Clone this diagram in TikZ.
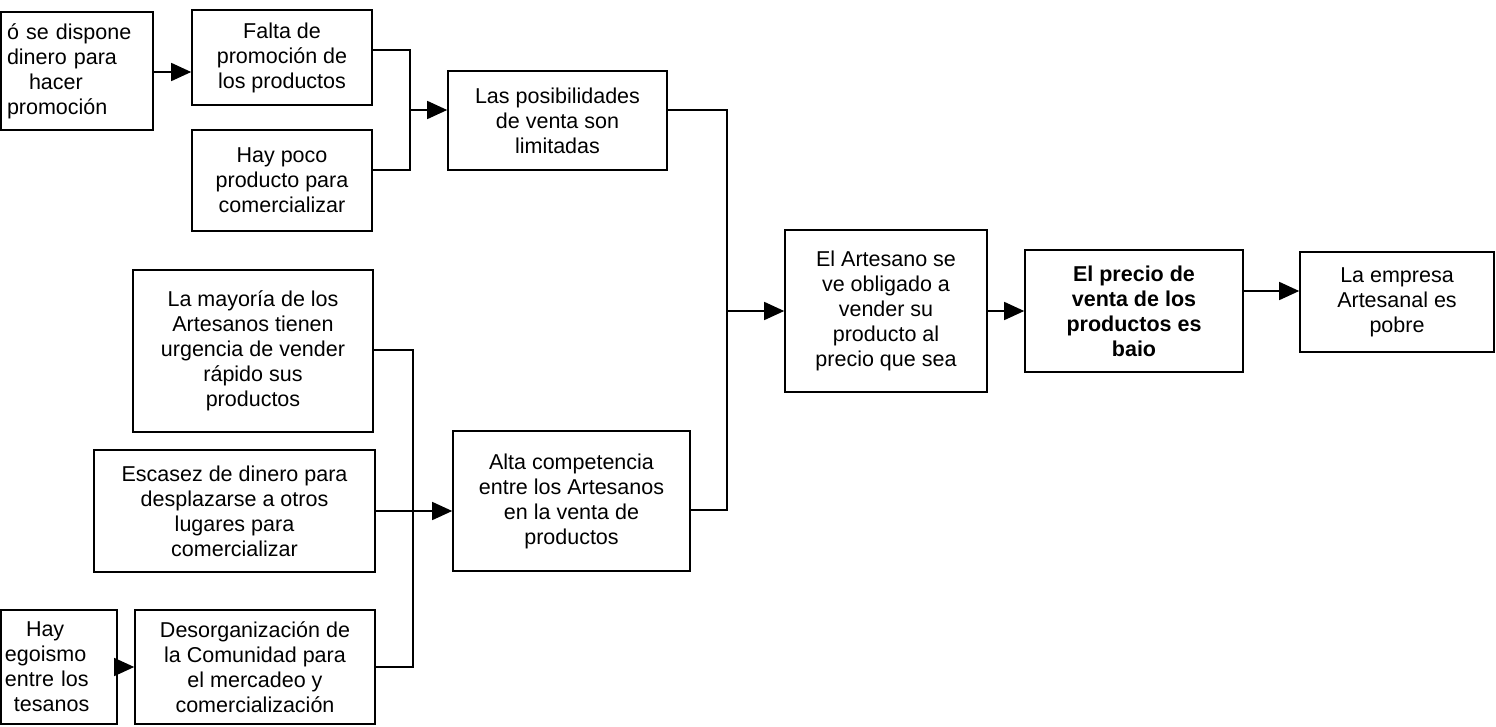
\documentclass[tikz,border=0pt]{standalone}
\usepackage{fontspec}
\setmainfont{Liberation Sans}
\usetikzlibrary{arrows.meta}
\tikzset{
  box/.style={draw=black, line width=1.6pt, rectangle, align=center, inner sep=2pt,
    font=\fontsize{21.5}{25}\selectfont},
  link/.style={draw=black, line width=1.5pt},
  arr/.style={link, -{Triangle[length=20pt,width=18pt]}}
}
\begin{document}
\begin{tikzpicture}[x=1pt,y=-1pt]
\path[fill=white] (0,0) rectangle (1496,726);
\useasboundingbox (0,0) rectangle (1496,726);

% boxes
\node[box, align=left, text width=140pt, inner xsep=6pt, minimum height=118pt] (A) at (77,71)
  {ó se dispone\\dinero para\\\hspace*{22pt}hacer\\promoción};
\node[box, minimum width=180pt, minimum height=95pt] (B) at (282,57.5)
  {Falta de\\promoción de\\los productos};
\node[box, minimum width=180pt, minimum height=101pt] (C) at (282,180.5)
  {Hay poco\\producto para\\comercializar};
\node[box, minimum width=219pt, minimum height=99pt] (D) at (557.5,120.5)
  {Las posibilidades\\de venta son\\limitadas};
\node[box, minimum width=237pt, minimum height=140pt] (E) at (571.5,501)
  {Alta competencia\\entre los Artesanos\\en la venta de\\productos};
\node[box, minimum width=202pt, minimum height=162pt] (F) at (886,311)
  {El Artesano se\\ve obligado a\\vender su\\producto al\\precio que sea};
\node[box, minimum width=218pt, minimum height=122pt, font=\fontsize{21.5}{25}\selectfont\bfseries] (K) at (1134,311)
  {El precio de\\venta de los\\productos es\\baio};
\node[box, minimum width=194pt, minimum height=100pt] (L) at (1397,302)
  {La empresa\\Artesanal es\\pobre};
\node[box, minimum width=240pt, minimum height=162pt] (G) at (253,351)
  {La mayoría de los\\Artesanos tienen\\urgencia de vender\\rápido sus\\productos};
\node[box, minimum width=281pt, minimum height=122pt] (H) at (234.5,511)
  {Escasez de dinero para\\desplazarse a otros\\lugares para\\comercializar};
\node[box, minimum width=240pt, minimum height=114pt] (I) at (255,667)
  {Desorganización de\\la Comunidad para\\el mercadeo y\\comercialización};
\node[box, align=left, text width=108pt, inner xsep=4pt, minimum height=114pt] (J) at (59,667)
  {\hspace*{21pt}Hay\\egoismo\\entre los\\\hspace*{9pt}tesanos};

% junctions
\coordinate (jD) at (410,110);
\coordinate (jF) at (727,311);
\coordinate (jE) at (413,511);

% connectors
\draw[arr] (A.east |- 0,72) -- (B.west |- 0,72);
\draw[link] (B.east |- 0,50) -| (jD);
\draw[link] (C.east |- 0,170) -| (jD);
\draw[arr] (jD) -- (D.west |- jD);

\draw[link] (D.east |- 0,110) -| (jF);
\draw[link] (E.east |- 0,510) -| (jF);
\draw[arr] (jF) -- (F.west |- jF);

\draw[arr] (F.east) -- (K.west);
\draw[arr] (K.east |- 0,291) -- (L.west |- 0,291);

\draw[link] (G.east |- 0,350) -| (jE);
\draw[link] (I.east) -| (jE);
\draw[arr] (H.east) -- (E.west |- H.east);

\draw[arr] (J.east) -- (I.west);
\end{tikzpicture}
\end{document}
